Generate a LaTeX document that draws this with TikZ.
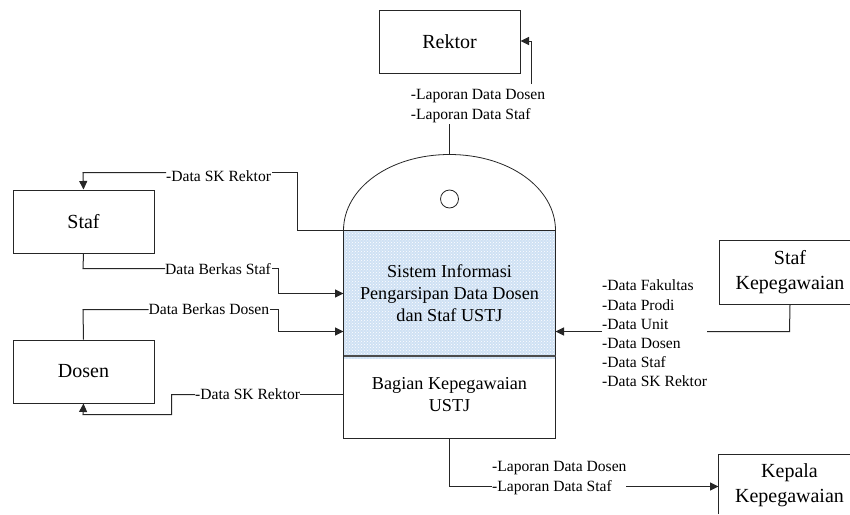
\documentclass[tikz,border=0pt]{standalone}
\usepackage{fontspec}
\setmainfont{Liberation Serif}
\usetikzlibrary{arrows.meta,patterns}
\definecolor{sysblue}{HTML}{CFE1F4}
\tikzset{
  x=1pt,y=-1pt,
  ln/.style={draw=black!85,line width=1pt},
  arr/.style={ln,-{Triangle[length=8.5pt,width=8pt]}},
  entity/.style={draw=black!85,line width=1pt,anchor=north west,inner sep=0pt,font=\fontsize{20}{24}\selectfont,align=center},
  lab/.style={inner sep=0pt,font=\fontsize{15.6}{19.2}\selectfont,align=left},
  mid/.style={inner sep=0pt,font=\fontsize{18.2}{22}\selectfont,align=center}
}
\begin{document}
\begin{tikzpicture}
\useasboundingbox (0,0) rectangle (850,514);
\fill[white] (0,0) rectangle (850,514);
% entities
\node[entity,minimum width=141pt,minimum height=63pt] (rektor) at (378.5,9.5) {Rektor};
\node[entity,minimum width=141pt,minimum height=63pt] (staf) at (12.5,189.5) {Staf};
\node[entity,minimum width=141pt,minimum height=63pt] (dosen) at (12.5,339.5) {Dosen};
\node[entity,minimum width=142pt,minimum height=64pt] (stafkep) at (718.5,239.5) {Staf\\[1pt]Kepegawaian};
% store
\coordinate (domeL) at (343.5,230.5);
\coordinate (domeR) at (555.5,230.5);
\coordinate (domeT) at (449.5,154.5);
\fill[sysblue] (343.5,230) rectangle (555.5,359);
\fill[pattern=crosshatch dots,pattern color=white] (343.5,230) rectangle (555.5,359);
\draw[ln,line width=.8pt] (domeL) .. controls (343.5,188) and (390,154.5) .. (domeT) .. controls (509,154.5) and (555.5,188) .. (domeR);
\draw[ln] (domeL) -- (domeR);
\draw[ln] (domeL) -- (343.5,438.5) -- (555.5,438.5) -- (domeR);
\draw[draw=black!70,line width=1.2pt] (343.5,356) -- (555.5,356);
\node[draw=black!85,line width=.8pt,circle,fill=white,minimum size=18pt,inner sep=0pt] (hole) at (449.5,199) {};
\node[mid] (sys) at (449.5,293) {Sistem Informasi\\Pengarsipan Data Dosen\\dan Staf USTJ};
\node[mid] (bag) at (449.5,395) {Bagian Kepegawaian\\USTJ};
% labels
\node[lab,anchor=west] (l1) at (410.7,106) {-Laporan Data Dosen\\-Laporan Data Staf};
\node[lab,anchor=west] (l2) at (166,176) {-Data SK Rektor};
\node[lab,anchor=west] (l3) at (165,269) {Data Berkas Staf};
\node[lab,anchor=west] (l4) at (148.5,309) {Data Berkas Dosen};
\node[lab,anchor=west] (l5) at (195,394) {-Data SK Rektor};
\node[lab,anchor=west] (l6) at (602,333.5) {-Data Fakultas\\-Data Prodi\\-Data Unit\\-Data Dosen\\-Data Staf\\-Data SK Rektor};
\node[lab,anchor=west] (l7) at (492,478) {-Laporan Data Dosen\\-Laporan Data Staf};
\coordinate (c1) at (449.5,124);
\coordinate (c2) at (531.5,84);
\coordinate (c3) at (626,486.5);
\coordinate (c4) at (707,331.5);
% connectors
\draw[ln] (c1) -- (domeT);
\draw[arr] (c2) -- (531.5,41) -- (rektor.east |- 0,41);
\draw[ln] (domeL) -- (297.5,230.5) -- (297.5,172.5) -- (272,172.5);
\draw[arr] (166,172.5) -- (83,172.5) -- (staf.north);
\draw[ln] (staf.south) -- (83,268.5) -- (165,268.5);
\draw[arr] (272,268.5) -- (278.5,268.5) -- (278.5,293.5) -- (343.5,293.5);
\draw[ln] (dosen.north) -- (83,309.5) -- (148.5,309.5);
\draw[arr] (270,309.5) -- (278.5,309.5) -- (278.5,331.5) -- (343.5,331.5);
\draw[ln] (343.5,394.5) -- (300,394.5);
\draw[arr] (195,394.5) -- (171.5,394.5) -- (171.5,414.5) -- (83,414.5) -- (dosen.south);
\draw[ln] (stafkep.south) -- (789.5,331.5) -- (c4);
\draw[arr] (602,331.5) -- (555.5,331.5);
\draw[ln] (449.5,438.5) -- (449.5,486.5) -- (492,486.5);
\draw[arr] (c3) -- (718.5,486.5);
% kepala box, cut by the page
\draw[ln] (718.5,514) -- (718.5,454.5) -- (851,454.5);
\node[inner sep=0pt,font=\fontsize{20}{24}\selectfont,align=center] (kepala) at (789.5,485) {Kepala\\[1pt]Kepegawaian};
\end{tikzpicture}
\end{document}
